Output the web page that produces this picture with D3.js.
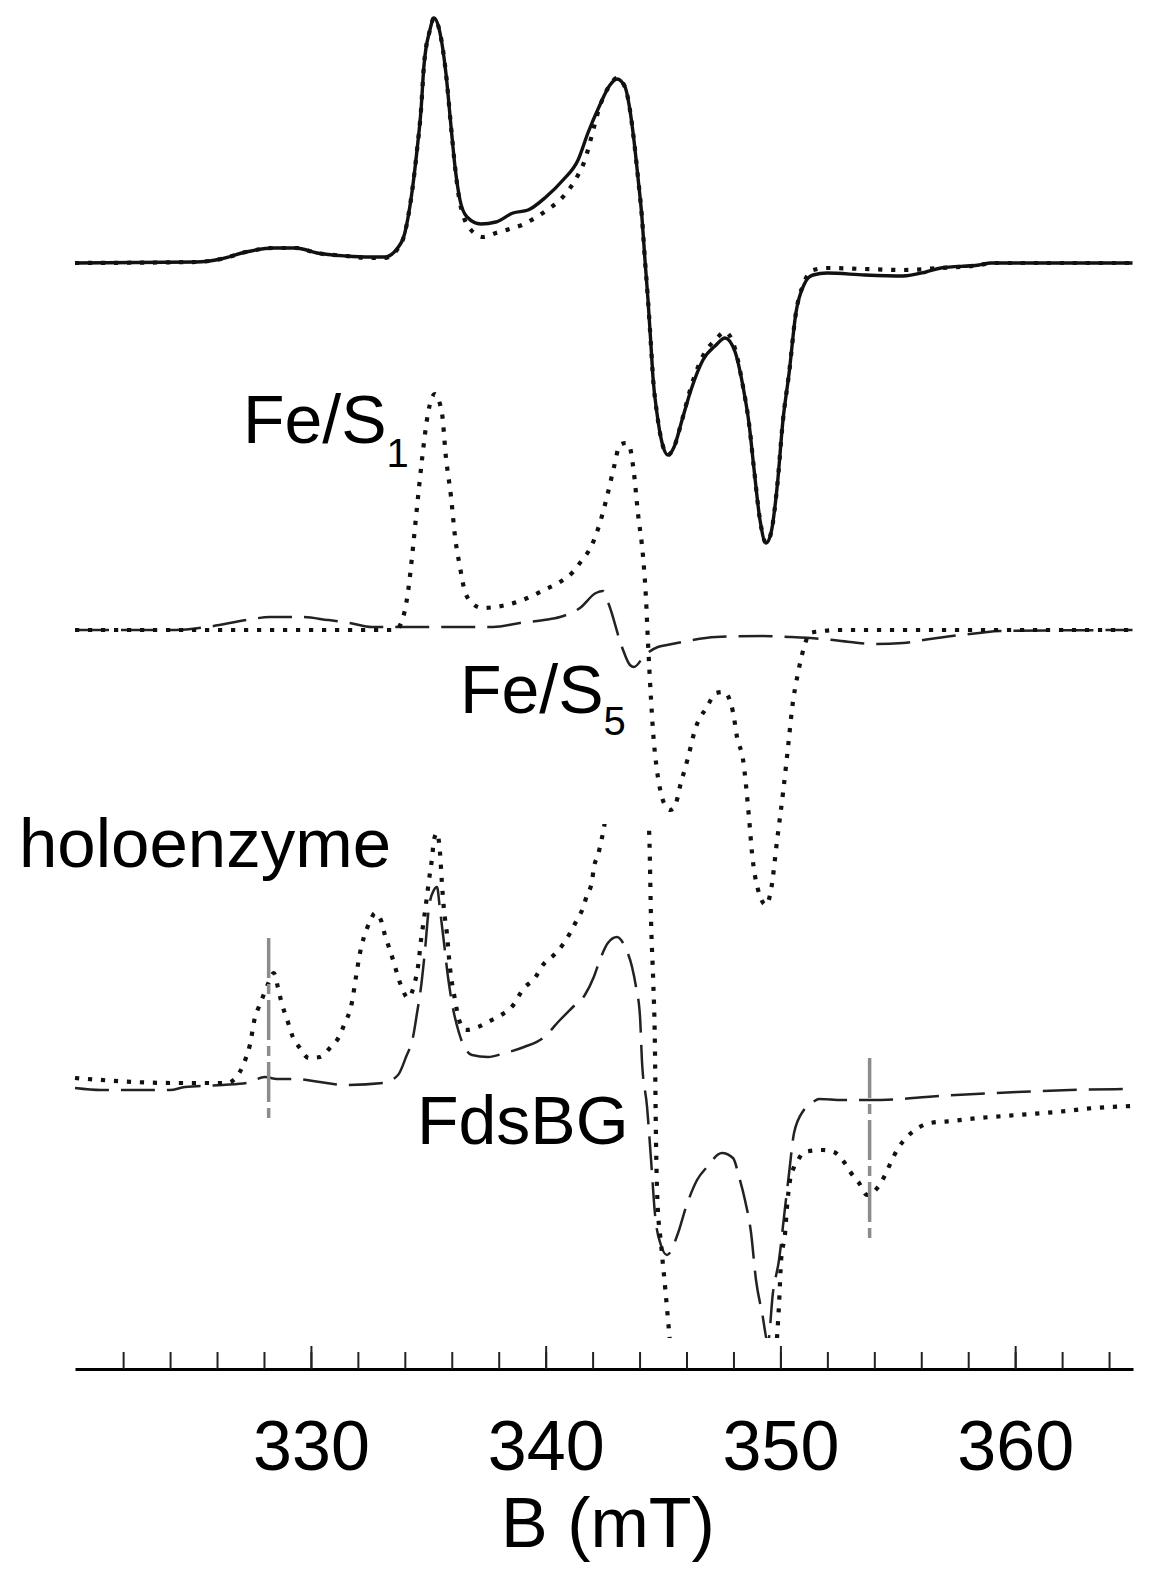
<!DOCTYPE html>
<html>
<head>
<meta charset="utf-8">
<script src="https://cdn.jsdelivr.net/npm/d3@7"></script>
<style>
  html, body { margin: 0; padding: 0; background: #fff; }
  svg { display: block; }
  text { font-family: "Liberation Sans", Arial, Helvetica, sans-serif; fill: #000; }
</style>
</head>
<body>
<svg id="chart" width="1158" height="1577"></svg>
<script>
// ---------- DATA: [B (mT), intensity (a.u.)] ----------
// Top: experimental spectrum (solid) and its simulation (dotted)
const topExperimental = [[319.95,0],[325.1,1],[326.17,4],[327.23,11],[328.42,15],[329.36,15],[330.26,10],[331.49,7],[332.56,6],[333.15,6],[333.66,14],[334.0,30],[334.3,70],[334.52,113],[334.69,153],[334.81,196],[335.07,233],[335.24,245],[335.5,230],[335.75,190],[335.97,136],[336.14,96],[336.35,63],[336.65,46],[337.24,39],[337.88,41],[338.61,50],[339.25,53],[340.01,66],[340.74,83],[341.38,103],[341.8,130],[342.27,156],[342.74,178],[343.04,184],[343.38,176],[343.59,153],[343.76,123],[343.93,86],[344.1,46],[344.23,3],[344.36,-37],[344.49,-84],[344.57,-114],[344.74,-150],[344.96,-180],[345.21,-192],[345.47,-184],[345.81,-157],[346.19,-127],[346.7,-97],[347.26,-82],[347.64,-75],[348.07,-89],[348.41,-124],[348.66,-160],[348.88,-207],[349.13,-257],[349.39,-280],[349.6,-270],[349.86,-224],[350.11,-157],[350.37,-110],[350.66,-50],[351.0,-22],[351.18,-15],[351.39,-12],[351.99,-10],[353.6,-12],[355.22,-13],[356.2,-9],[356.84,-5],[358.46,-2],[358.97,0],[365.0,0]];
const topSimulation = [[319.95,0],[325.1,1],[326.17,4],[327.23,11],[328.42,15],[329.36,15],[330.26,10],[331.49,7],[332.56,5],[333.15,5],[333.66,13],[334.0,30],[334.3,70],[334.52,113],[334.69,153],[334.81,196],[335.07,233],[335.24,245],[335.5,230],[335.75,190],[335.97,136],[336.14,96],[336.35,60],[336.82,33],[337.33,26],[337.88,30],[338.48,34],[338.99,38],[339.54,45],[340.06,53],[340.61,63],[341.04,75],[341.38,88],[341.67,103],[341.97,128],[342.27,154],[342.74,178],[343.04,185],[343.38,176],[343.59,153],[343.76,123],[343.93,86],[344.1,46],[344.23,3],[344.36,-37],[344.49,-84],[344.57,-114],[344.74,-150],[344.96,-180],[345.21,-192],[345.47,-184],[345.81,-157],[346.19,-124],[346.7,-93],[347.26,-76],[347.64,-69],[348.07,-86],[348.41,-124],[348.66,-160],[348.88,-207],[349.13,-257],[349.39,-280],[349.6,-270],[349.86,-224],[350.11,-157],[350.37,-110],[350.66,-50],[351.0,-20],[351.4,-7],[352.0,-5],[353.6,-6],[355.2,-7],[356.8,-5],[358.5,-2],[359.0,0],[365.0,0]];

// Middle: Fe/S1 (dotted) and Fe/S5 (dashed) components
const feS1 = [[319.95,0],[333.6,0],[333.86,8],[334.13,37],[334.35,83],[334.52,123],[334.73,170],[334.99,217],[335.28,236],[335.58,217],[335.75,173],[335.97,133],[336.14,93],[336.35,63],[336.52,42],[336.82,28],[337.29,22],[337.84,23],[338.9,29],[339.93,40],[340.61,48],[341.16,58],[341.55,70],[341.93,83],[342.31,107],[342.61,133],[342.91,163],[343.16,185],[343.42,187],[343.55,185],[343.76,157],[343.93,117],[344.15,73],[344.27,33],[344.36,-13],[344.49,-70],[344.57,-100],[344.74,-140],[344.91,-163],[345.08,-175],[345.3,-180],[345.47,-178],[345.76,-153],[346.06,-128],[346.36,-100],[346.87,-77],[347.26,-63],[347.6,-62],[347.98,-82],[348.15,-107],[348.41,-130],[348.66,-187],[348.79,-223],[349.05,-260],[349.39,-275],[349.6,-260],[349.86,-210],[350.11,-163],[350.37,-107],[350.49,-80],[350.75,-43],[351.01,-17],[351.26,-3],[351.81,-1],[352.5,0],[365.0,0]];
const feS5 = [[319.95,0],[324.25,0],[325.57,3],[327.27,10],[328.25,13],[329.57,13],[330.72,10],[331.66,7],[332.6,3],[333.75,3],[335.5,3],[337.75,3],[338.9,7],[339.93,10],[340.61,13],[341.46,22],[342.14,37],[342.44,39],[342.7,25],[343.25,-17],[343.59,-35],[343.76,-37],[344.23,-25],[344.78,-17],[345.17,-15],[345.81,-12],[347.26,-7],[349.22,-6],[350.37,-7],[351.81,-9],[352.97,-12],[354.07,-14],[355.22,-13],[356.37,-9],[357.31,-6],[358.46,-3],[359.36,-1],[365.0,0]];

// Bottom: holoenzyme (dotted) and FdsBG (dashed)
const holoenzyme = [[319.95,2],[324.12,-3],[326.42,-3],[326.97,8],[327.23,22],[327.4,35],[327.61,62],[327.78,73],[327.95,83],[328.21,98],[328.42,107],[328.59,93],[328.72,80],[329.02,58],[329.23,43],[329.53,32],[329.91,22],[330.38,23],[330.81,32],[331.19,43],[331.41,55],[331.75,78],[331.92,103],[332.09,127],[332.26,143],[332.51,158],[332.73,167],[332.98,160],[333.15,145],[333.32,133],[333.54,117],[333.71,103],[333.88,92],[334.13,82],[334.43,98],[334.56,113],[334.69,140],[334.81,160],[334.94,183],[335.03,200],[335.16,222],[335.24,240],[335.37,247],[335.5,227],[335.58,197],[335.67,170],[335.79,147],[335.92,113],[336.14,80],[336.31,60],[336.6,50],[337.12,53],[337.54,58],[338.1,65],[338.52,72],[339.08,92],[339.54,102],[339.88,115],[340.35,125],[340.78,137],[341.04,147],[341.33,160],[341.59,172],[341.76,185],[341.97,198],[342.05,212],[342.23,225],[342.36,238],[342.48,252],[342.7,290],[343.1,320],[343.6,320],[344.1,300],[344.4,252],[344.5,150],[344.58,100],[344.65,40],[344.7,-60],[344.76,-120],[344.92,-165],[345.1,-210],[345.27,-255],[345.45,-300],[346.0,-330],[347.5,-310],[348.5,-340],[349.3,-400],[349.7,-320],[349.85,-260],[349.94,-225],[350.03,-180],[350.2,-153],[350.28,-127],[350.41,-100],[350.58,-87],[350.75,-80],[351.01,-72],[351.81,-70],[352.28,-72],[352.71,-82],[353.01,-93],[353.35,-103],[353.69,-115],[354.16,-107],[354.5,-93],[354.71,-82],[355.05,-67],[355.39,-57],[355.86,-48],[356.37,-43],[357.31,-41],[358.46,-38],[360.08,-35],[361.74,-32],[363.36,-28],[365.0,-26]];
const fdsBG = [[319.95,-8],[321.05,-10],[324.0,-10],[324.63,-7],[326.25,-5],[327.27,-3],[328.04,3],[328.55,1],[329.32,1],[330.38,-2],[331.45,-5],[333.07,-3],[333.71,5],[334.05,23],[334.35,43],[334.52,67],[334.69,93],[334.86,130],[335.03,173],[335.24,190],[335.37,193],[335.5,170],[335.67,137],[335.84,103],[336.01,77],[336.31,47],[336.86,25],[337.54,23],[338.27,27],[339.08,33],[339.88,42],[340.61,60],[341.16,73],[341.67,85],[342.05,103],[342.31,120],[342.65,137],[343.04,143],[343.38,133],[343.68,113],[343.85,93],[344.02,63],[344.1,20],[344.32,-27],[344.49,-80],[344.66,-135],[344.91,-165],[345.17,-175],[345.64,-153],[345.98,-127],[346.45,-100],[346.87,-87],[347.51,-73],[347.98,-78],[348.24,-97],[348.49,-120],[348.75,-153],[348.96,-200],[349.22,-233],[349.47,-262],[349.68,-213],[349.94,-180],[350.2,-127],[350.37,-93],[350.58,-53],[351.0,-30],[351.39,-22],[351.65,-19],[352.62,-20],[353.77,-20],[355.22,-19],[356.2,-17],[357.48,-15],[360.08,-12],[362.34,-10],[364.94,-9]];

// Field markers in the bottom panel: [B, top intensity, bottom intensity]
const markers = [[328.2, 142, -41], [353.8, 22, -163]];

// Axis ticks
const minorTicks = d3.range(322, 365, 2);
const majorTicks = [330, 340, 350, 360];
const axisTitle = "B (mT)";
const seriesLabels = ["Fe/S", "1", "Fe/S", "5", "holoenzyme", "FdsBG"];

// ---------- LAYOUT ----------
const svg = d3.select("#chart");
const xScale = d3.scaleLinear().domain([319.95, 365.02]).range([75, 1133]);
const yScale = d3.scaleLinear().domain([0, 100]).range([0, -100]); // a.u. -> px offset from baseline
const baselines = { top: 263, middle: 630, bottom: 1080 };
const axisY = 1369;

const line = d3.line()
  .x(d => xScale(d[0]))
  .y(d => yScale(d[1]))
  .curve(d3.curveMonotoneX);

const styles = {
  solid:  { stroke: "#111", width: 3.4, dash: null },
  dotted: { stroke: "#111", width: 4.2, dash: "4.2,8.8" },
  dashed: { stroke: "#222", width: 2.5, dash: "34,12" }
};

function drawSeries(g, data, styleName) {
  const s = styles[styleName];
  g.append("path")
    .datum(data)
    .attr("d", line)
    .attr("fill", "none")
    .attr("stroke", s.stroke)
    .attr("stroke-width", s.width)
    .attr("stroke-linejoin", "round")
    .attr("stroke-dasharray", s.dash);
}

// clip for bottom panel
const defs = svg.append("defs");
defs.append("clipPath").attr("id", "clipBottom")
  .append("rect")
  .attr("x", 70).attr("width", 1070)
  .attr("y", 824 - baselines.bottom)
  .attr("height", 1338 - 824);

const gTop = svg.append("g").attr("transform", `translate(0,${baselines.top})`);
drawSeries(gTop, topExperimental, "solid");
drawSeries(gTop, topSimulation, "dotted");

const gMid = svg.append("g").attr("transform", `translate(0,${baselines.middle})`);
drawSeries(gMid, feS5, "dashed");
drawSeries(gMid, feS1, "dotted");

const gBot = svg.append("g").attr("transform", `translate(0,${baselines.bottom})`);
const gBotClip = gBot.append("g").attr("clip-path", "url(#clipBottom)");
gBot.selectAll("line.marker")
  .data(markers)
  .join("line")
  .attr("class", "marker")
  .attr("x1", d => xScale(d[0])).attr("x2", d => xScale(d[0]))
  .attr("y1", d => yScale(d[1])).attr("y2", d => yScale(d[2]))
  .attr("stroke", "#8c8c8c")
  .attr("stroke-width", 3.5)
  .attr("stroke-dasharray", "40,6,10,6");
drawSeries(gBotClip, fdsBG, "dashed");
drawSeries(gBotClip, holoenzyme, "dotted");

// ---------- AXIS ----------
const gAxis = svg.append("g").attr("transform", `translate(0,${axisY})`);
gAxis.call(d3.axisBottom(xScale).tickValues(minorTicks).tickSize(-17).tickSizeOuter(0).tickFormat(""));
gAxis.select(".domain").attr("stroke", "#000").attr("stroke-width", 3.2);
gAxis.selectAll(".tick line").attr("stroke", "#222").attr("stroke-width", 2);

const gMajor = svg.append("g").attr("transform", `translate(0,${axisY})`);
gMajor.call(d3.axisBottom(xScale).tickValues(majorTicks).tickSize(-23).tickSizeOuter(0).tickFormat(d3.format("d")));
gMajor.select(".domain").remove();
gMajor.selectAll(".tick line").attr("stroke", "#222").attr("stroke-width", 2);
gMajor.selectAll(".tick text")
  .attr("y", 101).attr("dy", 0)
  .attr("font-size", 70)
  .attr("font-family", "'Liberation Sans', Arial, sans-serif")
  .attr("fill", "#000");

svg.append("text")
  .attr("x", 608).attr("y", 1547)
  .attr("text-anchor", "middle")
  .attr("font-size", 70)
  .text(axisTitle);

// ---------- LABELS ----------
function subLabel(xPos, yPos, main, sub, dy) {
  const t = svg.append("text").attr("x", xPos).attr("y", yPos).attr("font-size", 68);
  t.append("tspan").text(main);
  t.append("tspan").attr("font-size", 40).attr("dy", dy).text(sub);
}
subLabel(243, 443, seriesLabels[0], seriesLabels[1], 24);
subLabel(460, 713, seriesLabels[2], seriesLabels[3], 22);
svg.append("text").attr("x", 19).attr("y", 867).attr("font-size", 69).text(seriesLabels[4]);
svg.append("text").attr("x", 417).attr("y", 1144).attr("font-size", 68).text(seriesLabels[5]);
</script>
</body>
</html>
